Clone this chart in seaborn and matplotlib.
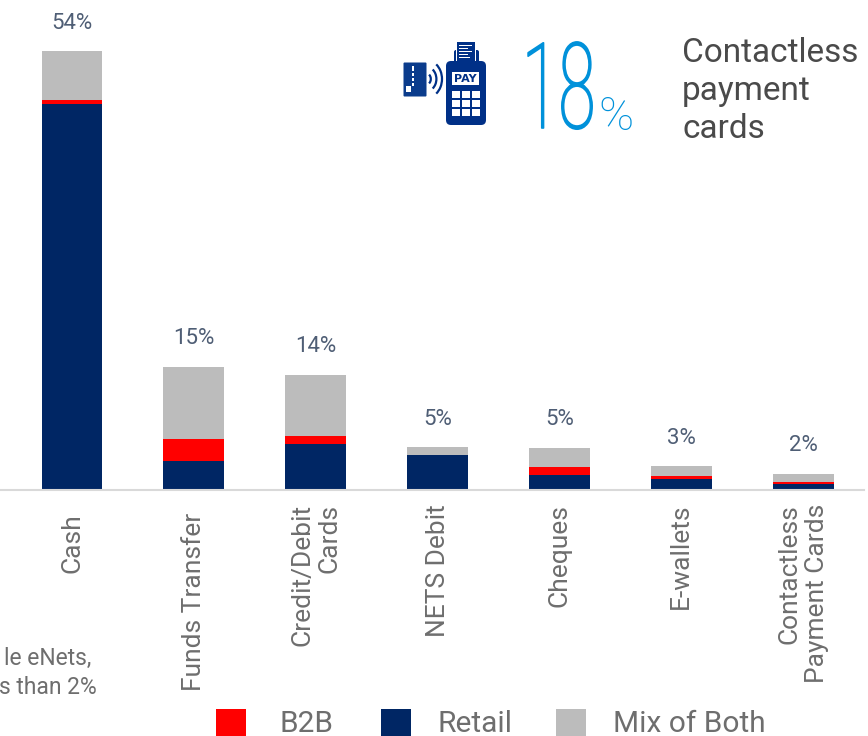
import matplotlib
matplotlib.use("Agg")
import matplotlib.pyplot as plt
import matplotlib.patheffects as pe
from matplotlib.transforms import Affine2D
from matplotlib.patches import Rectangle, FancyBboxPatch, Arc
import numpy as np
import seaborn as sns

categories = ["Cash", "Funds Transfer", "Credit/Debit\nCards", "NETS Debit", "Cheques", "E-wallets", "Contactless\nPayment Cards"]
retail = [47.6, 3.6, 5.7, 4.3, 1.8, 1.3, 0.75]
b2b = [0.5, 2.7, 1.0, 0.0, 1.0, 0.4, 0.2]
mix = [6.0, 8.9, 7.5, 1.0, 2.4, 1.2, 1.05]
total_labels = ["54%", "15%", "14%", "5%", "5%", "3%", "2%"]
legend_labels = ["B2B", "Retail", "Mix of Both"]

NAVY, RED, GREY = "#002664", "#FF0000", "#BCBCBC"
TXT = "#4F5E75"
LABEL = "#6E6E6E"
FONT = "Roboto"


class SqueezeX(pe.AbstractPathEffect):
    """Narrow a text horizontally about its own origin and give it an even stroke."""

    def __init__(self, sx, lw):
        super().__init__()
        self.sx, self.lw = sx, lw

    def draw_path(self, renderer, gc, tpath, affine, rgbFace=None):
        x0 = affine.get_matrix()[0, 2]
        squeezed = affine + Affine2D().translate(-x0, 0).scale(self.sx, 1).translate(x0, 0)
        gc2 = renderer.new_gc()
        gc2.copy_properties(gc)
        gc2.set_foreground(rgbFace)
        gc2.set_linewidth(self.lw)
        renderer.draw_path(gc2, tpath, squeezed, rgbFace)
        gc2.restore()


sns.set_theme(style="white")
plt.rcParams["font.family"] = [FONT, "DejaVu Sans"]

fig = plt.figure(figsize=(8.68, 7.36), dpi=100)
W, H = 868, 736
ax = fig.add_axes([0, (H - 490) / H, 864 / W, 490 / H])

r = np.array(retail)
b = np.array(b2b)
m = np.array(mix)
sns.barplot(x=categories, y=r, color=NAVY, saturation=1, width=0.5, linewidth=0, ax=ax)
sns.barplot(x=categories, y=b, bottom=r, color=RED, saturation=1, width=0.5, linewidth=0, ax=ax)
sns.barplot(x=categories, y=m, bottom=r + b, color=GREY, saturation=1, width=0.5, linewidth=0, ax=ax)
ax.bar_label(ax.containers[-1], labels=total_labels, padding=12.5, color=TXT, fontsize=16)

ax.set_xlim(-0.591, 6.50)
ax.set_ylim(0, 60.4)
ax.set_yticks([])
ax.set_ylabel("")
for s in ("top", "left", "right"):
    ax.spines[s].set_visible(False)
ax.spines["bottom"].set_color("#D9D9D9")
ax.spines["bottom"].set_linewidth(1.5)
ax.tick_params(axis="x", length=0, pad=10)
ax.set_xticks(range(len(categories)))
ax.set_xticklabels(categories, rotation=90, ha="center", va="top", multialignment="right",
                   fontsize=19, color=LABEL, linespacing=1.17)
for i in (0, 1):
    ax.xaxis.get_major_ticks()[i].set_pad(16.5)

# overlay in pixel coordinates for annotations, legend and icon
ov = fig.add_axes([0, 0, 1, 1], facecolor="none")
ov.set_xlim(0, W)
ov.set_ylim(H, 0)
ov.axis("off")

for lab, col, xh, xt in zip(legend_labels, [RED, NAVY, GREY], [216, 381, 556], [279, 437, 613]):
    ov.add_patch(Rectangle((xh, 709), 30, 27, fc=col, ec="none"))
    ov.text(xt, 724, lab, fontsize=21.5, color=LABEL, va="center", ha="left")

ov.text(682, 91, "Contactless\npayment\ncards", fontsize=24, color="#4A4A4A", va="center", ha="left", linespacing=1.22)
ov.text(91, 658, "le eNets,", fontsize=16.5, color=LABEL, va="center", ha="right")
ov.text(97, 687, "s than 2%", fontsize=16.5, color=LABEL, va="center", ha="right")
big = ov.text(522, 128, "18", fontsize=86, color="#0091DA", va="baseline", ha="left", fontweight="light")
big.set_path_effects([SqueezeX(0.56, 1.2)])
ov.text(598, 130, "%", fontsize=34, color="#0091DA", va="baseline", ha="left", fontweight="light")

ICON = "#003087"
# card
ov.add_patch(FancyBboxPatch((404, 63), 22, 33, boxstyle="round,pad=0.5,rounding_size=1", fc="#0B3C8C", ec="none"))
for y, h in [(66, 5), (73, 3), (78, 3), (83, 3)]:
    ov.add_patch(Rectangle((412, y), 1.5, h, fc="white", ec="none"))
ov.add_patch(Rectangle((406, 86), 5, 6, fc="white", ec="none"))
# waves
for d in (6, 13, 20):
    ov.add_patch(Arc((426, 79), d * 1.6, d * 1.9, theta1=-55, theta2=55, ec=ICON, lw=1.6))
# printer + receipt
ov.add_patch(FancyBboxPatch((454, 50), 25, 14, boxstyle="round,pad=0,rounding_size=2", fc=ICON, ec="none"))
ov.add_patch(Rectangle((456, 41), 20, 21, fc="white", ec="none"))
ov.add_patch(Rectangle((457, 42), 18, 19, fc=ICON, ec="none"))
for y, x2 in [(45, 472), (48, 468), (51, 472), (54, 468), (57, 470)]:
    ov.add_patch(Rectangle((459, y), x2 - 459, 1.2, fc="white", ec="none"))
# terminal
ov.add_patch(FancyBboxPatch((446, 61), 40, 64, boxstyle="round,pad=0,rounding_size=5", fc=ICON, ec="none"))
ov.add_patch(Rectangle((452, 72), 27, 13, fc="white", ec="none"))
ov.text(465.5, 78.7, "PAY", color=ICON, fontsize=8, fontweight="bold", ha="center", va="center", family="DejaVu Sans")
for yk in (91, 100, 109.3):
    for xk in (452.3, 462.3, 472):
        ov.add_patch(Rectangle((xk, yk), 7.5, 6.5, fc="white", ec="none"))

fig.savefig("out.png", dpi=100)
